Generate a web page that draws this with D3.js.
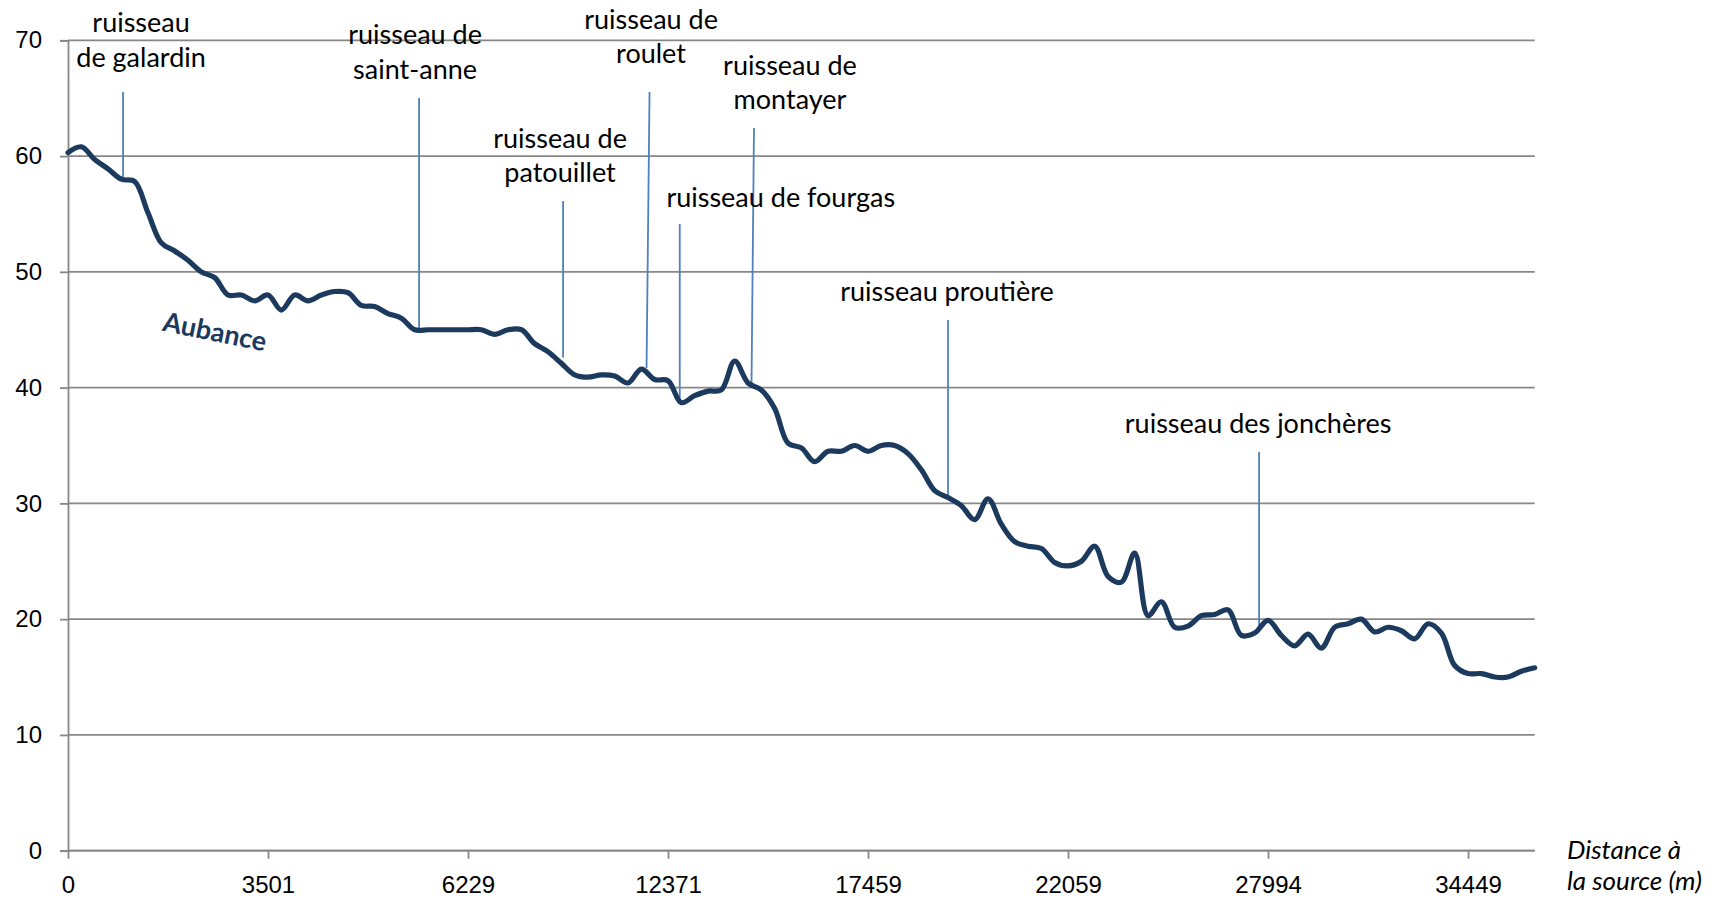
<!DOCTYPE html>
<html>
<head>
<meta charset="utf-8">
<script src="https://cdn.jsdelivr.net/npm/d3@7"></script>
<style>
  body { margin: 0; background: #fff; }
  svg { display: block; font-family: Lato, "Open Sans", sans-serif; }
</style>
</head>
<body>
<svg id="chart" width="1723" height="899"></svg>
<script>
// altitude (m) de l'Aubance, points réguliers le long de l'axe des catégories
const altitudes = [
  60.3, 60.8, 59.7, 58.9, 58.0, 57.8, 55.1, 52.5, 51.8, 51.0,
  50.0, 49.5, 48.0, 48.0, 47.5, 48.0, 46.7, 48.0, 47.5, 48.0,
  48.3, 48.2, 47.1, 47.0, 46.4, 46.0, 45.0, 45.0, 45.0, 45.0,
  45.0, 45.0, 44.6, 45.0, 45.0, 43.8, 43.1, 42.1, 41.1, 40.9,
  41.1, 41.0, 40.4, 41.6, 40.7, 40.6, 38.7, 39.3, 39.7, 39.8,
  42.3, 40.4, 39.8, 38.2, 35.2, 34.8, 33.6, 34.5, 34.5, 35.0,
  34.5, 35.0, 35.0, 34.3, 32.9, 31.1, 30.5, 29.8, 28.6, 30.4,
  28.2, 26.7, 26.3, 26.1, 24.9, 24.6, 25.0, 26.3, 23.7, 23.2,
  25.7, 20.3, 21.5, 19.3, 19.4, 20.3, 20.4, 20.8, 18.6, 18.8,
  19.9, 18.6, 17.7, 18.7, 17.5, 19.3, 19.6, 20.0, 18.9, 19.3,
  19.0, 18.3, 19.6, 18.8, 16.0, 15.3, 15.3, 15.0, 15.0, 15.5,
  15.8
];
const distLabels = ["0", "3501", "6229", "12371", "17459", "22059", "27994", "34449"];
const labelStep = 15;
const yTicks = [0, 10, 20, 30, 40, 50, 60, 70];

// affluents : nom, position (index) et altitude de la confluence
const tribNames = [
  ["ruisseau", "de galardin"],
  ["ruisseau de", "saint-anne"],
  ["ruisseau de", "patouillet"],
  ["ruisseau de", "roulet"],
  ["ruisseau de", "montayer"],
  ["ruisseau de fourgas"],
  ["ruisseau proutière"],
  ["ruisseau des jonchères"]
];
const tribIndex = [4.13, 26.33, 37.13, 43.39, 51.26, 45.88, 66.0, 89.33];
const tribElev  = [58.2, 45.0, 42.6, 41.7, 40.0, 38.9, 30.5, 19.3];

// mise en page des étiquettes (px) : haut du trait, décalage du texte, lignes de base, inclinaison
const tribLayout = [
  {top: 92,  dx: 18,   base: [32, 67],   tilt: 0},
  {top: 98,  dx: -4,   base: [44, 79],   tilt: 0},
  {top: 201, dx: -3,   base: [148, 182], tilt: 0},
  {top: 92,  dx: 4.5,  base: [29, 63],   tilt: 3},
  {top: 128, dx: 38.5, base: [75, 109],  tilt: 2.5},
  {top: 224, dx: 101,  base: [207],      tilt: 0},
  {top: 320, dx: -1,   base: [301],      tilt: 0},
  {top: 452, dx: -1,   base: [433],      tilt: 0}
];

const plotLeft = 68, plotRight = 1534.7, plotTop = 40.3, plotBottom = 850.7;
const gridColor = "#878787", lineColor = "#1b3a5e", leaderColor = "#4f81bd";

const svg = d3.select("#chart");

const x = d3.scaleLinear().domain([0, altitudes.length - 1]).range([plotLeft, plotRight]);
const y = d3.scaleLinear().domain([0, 70]).range([plotBottom, plotTop]);

// gridlines
svg.append("g")
  .selectAll("line")
  .data(yTicks)
  .join("line")
    .attr("x1", plotLeft).attr("x2", plotRight)
    .attr("y1", d => y(d)).attr("y2", d => y(d))
    .attr("stroke", gridColor)
    .attr("stroke-width", 1.8);

// y axis
const yAxis = svg.append("g")
  .attr("transform", `translate(${plotLeft},0)`)
  .call(d3.axisLeft(y).tickValues(yTicks).tickSize(8).tickPadding(18));
yAxis.select(".domain").attr("stroke", gridColor).attr("stroke-width", 1.8);
yAxis.selectAll(".tick line").attr("stroke", gridColor).attr("stroke-width", 1.8);
yAxis.selectAll(".tick text")
  .attr("fill", "#000")
  .style("font-size", "24px");

// x axis (catégories)
const tickIdx = distLabels.map((d, i) => i * labelStep);
const xAxis = svg.append("g")
  .attr("transform", `translate(0,${plotBottom})`)
  .call(d3.axisBottom(x).tickValues(tickIdx).tickSize(8)
    .tickFormat((d, i) => distLabels[i]));
xAxis.select(".domain").attr("stroke", gridColor).attr("stroke-width", 1.8)
  .attr("d", `M${plotLeft},0H${plotRight}`);
xAxis.selectAll(".tick line").attr("stroke", gridColor).attr("stroke-width", 1.8);
xAxis.selectAll(".tick text")
  .attr("fill", "#000")
  .attr("y", 42).attr("dy", 0)
  .style("font-size", "24px");

// axis title
const xTitle = svg.append("text")
  .style("font-size", "26px")
  .style("font-style", "italic")
  .attr("fill", "#000");
xTitle.append("tspan").attr("x", 1567).attr("y", 859).text("Distance à");
xTitle.append("tspan").attr("x", 1567).attr("y", 890).text("la source (m)");

// leaders for tributaries
tribNames.forEach((name, i) => {
  const lay = tribLayout[i];
  const bx = x(tribIndex[i]), by = y(tribElev[i]);
  svg.append("line")
    .attr("x1", bx + lay.tilt).attr("y1", lay.top)
    .attr("x2", bx).attr("y2", by)
    .attr("stroke", leaderColor)
    .attr("stroke-width", 1.8);
  const t = svg.append("text")
    .style("font-size", "27px")
    .style("text-anchor", "middle")
    .attr("fill", "#000");
  name.forEach((line, j) => {
    t.append("tspan")
      .attr("x", bx + lay.dx)
      .attr("y", lay.base[j])
      .text(line);
  });
});

// profile line
const profile = d3.line()
  .x((d, i) => x(i))
  .y(d => y(d))
  .curve(d3.curveCatmullRom.alpha(0.5));

svg.append("path")
  .datum(altitudes)
  .attr("d", profile)
  .attr("fill", "none")
  .attr("stroke", lineColor)
  .attr("stroke-width", 5.2)
  .attr("stroke-linejoin", "round")
  .attr("stroke-linecap", "round");

// series label
svg.append("text")
  .attr("transform", "translate(213,341) rotate(11.5)")
  .style("text-anchor", "middle")
  .style("font-size", "27px")
  .style("font-weight", "bold")
  .attr("fill", lineColor)
  .text("Aubance");
</script>
</body>
</html>
